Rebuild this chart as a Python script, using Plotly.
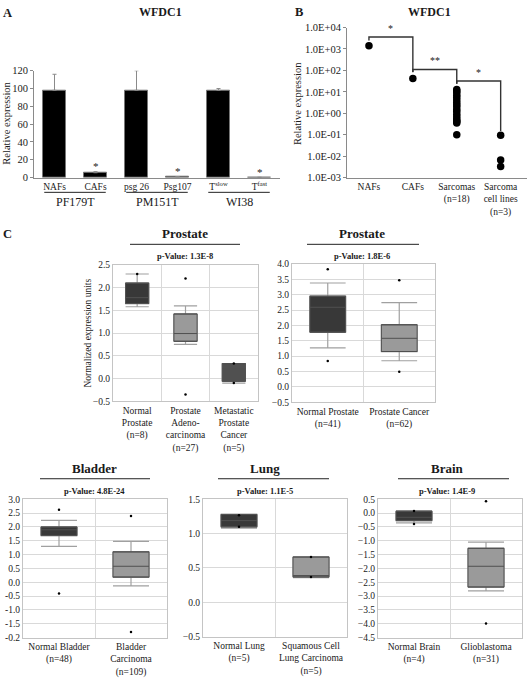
import math
import plotly.graph_objects as go

W, H = 528, 678
def px(x): return x / W
def py(y): return 1 - y / H

FONT = "Liberation Serif, Times New Roman, Times, serif"
TXT = "#1a1a1a"

# ---------------- Panel A data ----------------
a_labels = ["NAFs", "CAFs", "psg 26", "Psg107", "T<sup>slow</sup>", "T<sup>fast</sup>"]
a_values = [98, 5.5, 98, 1.0, 98, 0.3]
a_err = [18, 1.2, 22, 0, 2, 0]
a_sig = ["", "*", "", "*", "", "*"]
a_groups = ["PF179T", "PM151T", "WI38"]
a_yticks = [0, 20, 40, 60, 80, 100, 120]

# ---------------- Panel B data ----------------
b_labels = ["NAFs", "CAFs", "Sarcomas<br>(n=18)", "Sarcoma<br>cell lines<br>(n=3)"]
b_nafs = [1400]
b_cafs = [42]
b_sarcomas = [13, 11, 9, 7, 5.5, 4.2, 3.2, 2.5, 2.0, 1.5, 1.2, 0.9, 0.7, 0.55, 0.45, 0.4, 0.35, 0.1]
b_cell_lines = [0.095, 0.0066, 0.0033]
b_yticks = [1e-3, 1e-2, 1e-1, 1e0, 1e1, 1e2, 1e3, 1e4]
b_yticktext = ["1.0E-03", "1.0E-02", "1.0E-01", "1.0E+00", "1.0E+01", "1.0E+02", "1.0E+03", "1.0E+04"]
# comparisons: (from, to, left end, bar level, right end, label)
b_brackets = [(0, 1, 2500, 3600, 83, "*"), (1, 2, 85, 110, 24, "**"), (2, 3, 24, 32, 0.15, "*")]

# ---------------- Panel C data ----------------
c1_cats = ["Normal<br>Prostate<br>(n=8)", "Prostate<br>Adeno-<br>carcinoma<br>(n=27)",
           "Metastatic<br>Prostate<br>Cancer<br>(n=5)"]
c1_q1 = [1.65, 0.82, -0.06]
c1_med = [1.78, 0.99, 0.22]
c1_q3 = [2.10, 1.42, 0.33]
c1_lo = [1.58, 0.75, -0.10]
c1_hi = [2.30, 1.60, 0.33]
c1_out = [[2.30], [2.20, -0.35], [0.33, -0.10]]

c2_cats = ["Normal Prostate<br>(n=41)", "Prostate Cancer<br>(n=62)"]
c2_q1 = [1.78, 1.15]
c2_med = [2.59, 1.58]
c2_q3 = [2.95, 2.02]
c2_lo = [1.27, 0.85]
c2_hi = [3.38, 2.74]
c2_out = [[3.83, 0.84], [3.47, 0.49]]

c3_cats = ["Normal Bladder<br>(n=48)", "Bladder<br>Carcinoma<br>(n=109)"]
c3_q1 = [1.69, 0.19]
c3_med = [1.90, 0.58]
c3_q3 = [2.00, 1.10]
c3_lo = [1.30, -0.13]
c3_hi = [2.24, 1.48]
c3_out = [[2.62, -0.40], [2.40, -1.80]]
c3_yticks = [-2.0, -1.5, -1.0, -0.5, 0.0, 0.5, 1.0, 1.5, 2.0, 2.5, 3.0]
c3_yticktext = ["-0.2", "-1.5", "-1.0", "-0.5", "0.0", "0.5", "1.0", "1.5", "2.0", "2.5", "3.0"]

c4_cats = ["Normal Lung<br>(n=5)", "Squamous Cell<br>Lung Carcinoma<br>(n=5)"]
c4_q1 = [1.10, 0.37]
c4_med = [1.19, 0.39]
c4_q3 = [1.28, 0.66]
c4_lo = [1.08, 0.36]
c4_hi = [1.28, 0.66]
c4_out = [[1.27, 1.10], [0.66, 0.37]]

c5_cats = ["Normal Brain<br>(n=4)", "Glioblastoma<br>(n=31)"]
c5_q1 = [-0.27, -2.67]
c5_med = [-0.15, -1.92]
c5_q3 = [0.07, -1.27]
c5_lo = [-0.35, -2.81]
c5_hi = [0.08, -1.05]
c5_out = [[0.08, -0.39], [0.43, -3.99]]

c_titles = ["Prostate", "Prostate", "Bladder", "Lung", "Brain"]
c_pvalues = ["p-Value: 1.3E-8", "p-Value: 1.8E-6", "p-Value: 4.8E-24", "p-Value: 1.1E-5", "p-Value: 1.4E-9"]

DARK = "#383838"
MID = "#505050"
LIGHT = "#9a9a9a"

fig = go.Figure()

# ---------- Panel A ----------
fig.add_trace(go.Bar(
    x=list(range(len(a_values))), y=a_values, width=0.58,
    marker=dict(color="black", line=dict(color="#777", width=1)),
    error_y=dict(type="data", symmetric=False, array=a_err, arrayminus=[0] * len(a_err),
                 color="#8a8a8a", thickness=1, width=2),
    xaxis="x", yaxis="y", showlegend=False))

# ---------- Panel B ----------
b_series = [b_nafs, b_cafs, b_sarcomas, b_cell_lines]
for i, vals in enumerate(b_series):
    fig.add_trace(go.Scatter(x=[i] * len(vals), y=vals, mode="markers",
                             marker=dict(color="black", size=7.5),
                             xaxis="x2", yaxis="y2", showlegend=False))
for (i0, i1, yl, yt, yr, lab) in b_brackets:
    fig.add_trace(go.Scatter(x=[i0, i0, i1, i1], y=[yl, yt, yt, yr], mode="lines",
                             line=dict(color="#333", width=1.4),
                             xaxis="x2", yaxis="y2", showlegend=False, hoverinfo="skip"))

# ---------- Panel C ----------
c_sets = [
    (c1_cats, c1_q1, c1_med, c1_q3, c1_lo, c1_hi, c1_out, [DARK, LIGHT, MID], 0.48),
    (c2_cats, c2_q1, c2_med, c2_q3, c2_lo, c2_hi, c2_out, [DARK, LIGHT], 0.5),
    (c3_cats, c3_q1, c3_med, c3_q3, c3_lo, c3_hi, c3_out, [DARK, LIGHT], 0.5),
    (c4_cats, c4_q1, c4_med, c4_q3, c4_lo, c4_hi, c4_out, [DARK, LIGHT], 0.5),
    (c5_cats, c5_q1, c5_med, c5_q3, c5_lo, c5_hi, c5_out, [DARK, LIGHT], 0.5),
]
for k, (cats, q1, med, q3, lo, hi, outs, cols, bw) in enumerate(c_sets):
    xa, ya = f"x{k + 3}", f"y{k + 3}"
    for j, cat in enumerate(cats):
        # whiskers (light grey)
        fig.add_trace(go.Box(
            x=[cat], q1=[q1[j]], median=[med[j]], q3=[q3[j]],
            lowerfence=[lo[j]], upperfence=[hi[j]],
            fillcolor=cols[j], line=dict(color="#a0a0a0", width=1.2),
            whiskerwidth=1, width=bw, boxpoints=False,
            xaxis=xa, yaxis=ya, showlegend=False))
        # box body with darker outline
        fig.add_trace(go.Box(
            x=[cat], q1=[q1[j]], median=[med[j]], q3=[q3[j]],
            lowerfence=[q1[j]], upperfence=[q3[j]],
            fillcolor=cols[j], line=dict(color="#505050", width=1),
            whiskerwidth=1, width=bw, boxpoints=False,
            xaxis=xa, yaxis=ya, showlegend=False, hoverinfo="skip"))
        fig.add_trace(go.Scatter(
            x=[cat] * len(outs[j]), y=outs[j], mode="markers",
            marker=dict(color="black", size=2.5),
            xaxis=xa, yaxis=ya, showlegend=False))

# ---------- layout ----------
tick_font = dict(family=FONT, size=9.5, color=TXT)
layout = dict(
    width=W, height=H, margin=dict(l=0, r=0, t=0, b=0),
    paper_bgcolor="white", plot_bgcolor="white",
    font=dict(family=FONT, color=TXT),
    boxmode="overlay", bargap=0,
    xaxis=dict(domain=[px(34), px(280)], range=[-0.5, 5.5], tickmode="array",
               tickvals=list(range(len(a_labels))), ticktext=a_labels, tickangle=0,
               showline=True, linecolor="#8a8a8a", ticks="", showgrid=False, zeroline=False,
               tickfont=dict(family=FONT, size=9.5, color=TXT), anchor="y"),
    yaxis=dict(domain=[py(176), py(67)], range=[0, 120], tickmode="array", tickvals=a_yticks,
               showline=True, linecolor="#8a8a8a", ticks="outside", ticklen=3, tickcolor="#8a8a8a",
               showgrid=False, zeroline=False, tickfont=dict(family=FONT, size=10.5, color=TXT),
               anchor="x"),
    xaxis2=dict(domain=[px(347), px(527)], range=[-0.5, 3.6], tickmode="array",
                tickvals=list(range(len(b_labels))), ticktext=b_labels, tickangle=0,
                showline=True, linecolor="#8a8a8a", ticks="", showgrid=False, zeroline=False,
                tickfont=tick_font, anchor="y2"),
    yaxis2=dict(domain=[py(176), py(23)], type="log", range=[-3, 4], tickmode="array",
                tickvals=b_yticks, ticktext=b_yticktext,
                showline=True, linecolor="#8a8a8a", ticks="outside", ticklen=3, tickcolor="#8a8a8a",
                showgrid=False, zeroline=False, tickfont=dict(family=FONT, size=10.5, color=TXT),
                anchor="x2"),
)

c_dom = [
    ((113, 258), (265, 404), (-0.5, 2.5), None, None),
    ((292, 435), (264, 405), (-0.5, 4.0), None, None),
    ((23, 167), (504, 645), (-2.0, 3.0), c3_yticks, c3_yticktext),
    ((203, 347), (504, 644), (-0.5, 1.5), None, None),
    ((378, 522), (504, 645), (-4.5, 0.5), None, None),
]
for k, ((x0, x1), (y0, y1), yr, tv, tt) in enumerate(c_dom):
    n = k + 3
    ncat = len(c_sets[k][0])
    layout[f"xaxis{n}"] = dict(domain=[px(x0), px(x1)], type="category", range=[-0.5, ncat - 0.5],
                               tickson="boundaries", ticks="", showgrid=True, gridcolor="#d9d9d9",
                               showline=True, mirror=True, linecolor="#c4c4c4", zeroline=False,
                               tickangle=0, tickfont=tick_font, anchor=f"y{n}")
    yd = dict(domain=[py(y1), py(y0)], range=list(yr), showgrid=True, gridcolor="#d9d9d9",
              showline=True, mirror=True, linecolor="#c4c4c4", zeroline=False, ticks="",
              tickfont=tick_font, anchor=f"x{n}", tickformat=".1f")
    if tv is not None:
        yd.update(tickmode="array", tickvals=tv, ticktext=tt)
    else:
        yd.update(dtick=0.5, tick0=0)
    layout[f"yaxis{n}"] = yd

fig.update_layout(**layout)

ann = []
def text(x, y, s, size, bold=False, angle=0, xanchor="center", xref="paper", yref="paper"):
    ann.append(dict(x=x, y=y, xref=xref, yref=yref, text=f"<b>{s}</b>" if bold else s,
                    showarrow=False, xanchor=xanchor, yanchor="middle", textangle=angle,
                    font=dict(family=FONT, size=size, color=TXT)))

# panel letters and headings
text(px(1), py(8), "A", 12.5, True, xanchor="left")
text(px(293), py(7), "B", 12.5, True, xanchor="left")
text(px(1), py(233), "C", 12.5, True, xanchor="left")
text(px(160), py(7), "WFDC1", 12, True)
text(px(429), py(7), "WFDC1", 12, True)
text(px(7), py(121), "Relative expression", 10.5, angle=-90)
text(px(297), py(101), "Relative expression", 10.5, angle=-90)
text(px(88), py(335), "Normalized expression units", 9.5, angle=-90)

# significance stars panel A
for i, s in enumerate(a_sig):
    if s:
        ann.append(dict(x=i, y=a_values[i] + a_err[i] + 6, xref="x", yref="y", text=s,
                        showarrow=False, yanchor="middle",
                        font=dict(family=FONT, size=11, color=TXT)))
# group labels panel A
shapes = []
for g, name in enumerate(a_groups):
    ann.append(dict(x=2 * g + 0.5, y=py(201), xref="x", yref="paper", text=name, showarrow=False,
                    yanchor="middle", font=dict(family=FONT, size=12, color=TXT)))
    shapes.append(dict(type="line", xref="x", yref="paper", x0=2 * g - 0.25, x1=2 * g + 1.25,
                       y0=py(191), y1=py(191), line=dict(color="#222", width=1)))
# bracket labels panel B
for (i0, i1, yl, yt, yr, lab) in b_brackets:
    ann.append(dict(x=(i0 + i1) / 2, y=math.log10(yt * 2.6), xref="x2", yref="y2",
                    text=lab, showarrow=False, yanchor="middle",
                    font=dict(family=FONT, size=10, color=TXT)))

# panel C titles
c_head = [(185, 233, 244, 130, 240), (362, 233, 244, 307, 419), (94, 473, 483, 40, 150),
          (265, 473, 483, 218, 329), (447, 473, 483, 398, 509)]
for k, (cx, ty, ly, lx0, lx1) in enumerate(c_head):
    text(px(cx), py(ty), c_titles[k], 13, True)
    text(px(cx), py(ty + 22.5), c_pvalues[k], 8.5, True)
    shapes.append(dict(type="line", xref="paper", yref="paper", x0=px(lx0), x1=px(lx1),
                       y0=py(ly), y1=py(ly), line=dict(color="#222", width=1)))

fig.update_layout(annotations=ann, shapes=shapes)
fig.write_html("out.html", config={"displayModeBar": False},
               post_script="document.body.style.margin='0';")
